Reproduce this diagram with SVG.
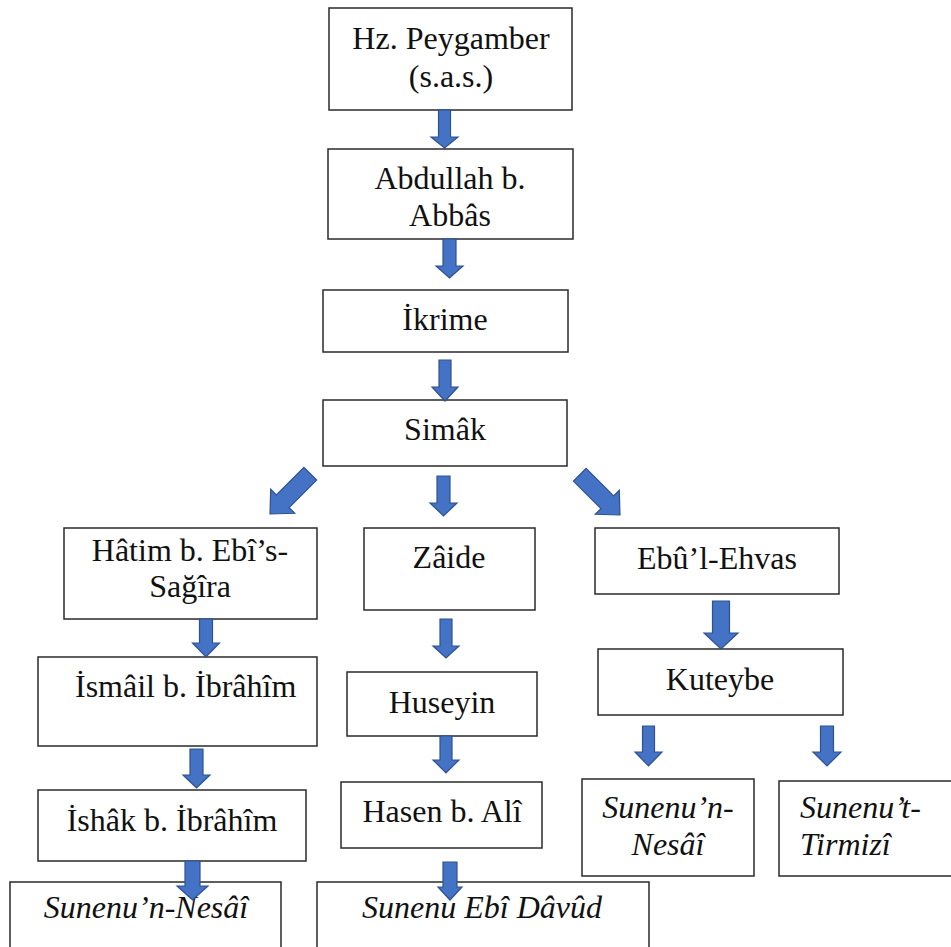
<svg xmlns="http://www.w3.org/2000/svg" width="951" height="947" viewBox="0 0 951 947">
<style>
.box{fill:#ffffff;stroke:#2a2a2a;stroke-width:1.5}
.t{font-family:'Liberation Serif','Tinos','DejaVu Serif',serif;font-size:32px;fill:#111;text-anchor:middle}
.i{font-style:italic}
.s{text-anchor:start}
.arr{fill:#4472C4;stroke:#2F528F;stroke-width:1.2;stroke-linejoin:miter}
</style>
<rect width="951" height="947" fill="#ffffff"/>
<g id="n1"><rect class="box" x="329" y="8" width="243" height="102"/><text class="t" x="451" y="49">Hz. Peygamber</text><text class="t" x="451" y="87">(s.a.s.)</text></g>
<g id="n2"><rect class="box" x="328" y="149" width="245" height="90"/><text class="t" x="450" y="189">Abdullah b.</text><text class="t" x="450" y="226">Abbâs</text></g>
<g id="n3"><rect class="box" x="323" y="290" width="245" height="62"/><text class="t" x="445" y="330">İkrime</text></g>
<g id="n4"><rect class="box" x="323" y="400" width="244" height="66"/><text class="t" x="445" y="440">Simâk</text></g>
<g id="n5"><rect class="box" x="64" y="528" width="253" height="91"/><text class="t" x="190" y="561">Hâtim b. Ebî’s-</text><text class="t" x="190" y="597">Sağîra</text></g>
<g id="n6"><rect class="box" x="364" y="528" width="171" height="82"/><text class="t" x="449" y="568">Zâide</text></g>
<g id="n7"><rect class="box" x="595" y="528" width="244" height="66"/><text class="t" x="717" y="569">Ebû’l-Ehvas</text></g>
<g id="n8"><rect class="box" x="38" y="657" width="279" height="89"/><text class="t s" x="75" y="697">İsmâil b. İbrâhîm</text></g>
<g id="n9"><rect class="box" x="38" y="790" width="268" height="71"/><text class="t" x="172" y="831">İshâk b. İbrâhîm</text></g>
<g id="n10"><rect class="box" x="10" y="882" width="271" height="80"/><text class="t i" x="146" y="918">Sunenu’n-Nesâî</text></g>
<g id="n11"><rect class="box" x="347" y="672" width="190" height="64"/><text class="t" x="442" y="713">Huseyin</text></g>
<g id="n12"><rect class="box" x="341" y="782" width="201" height="66"/><text class="t" x="442" y="822">Hasen b. Alî</text></g>
<g id="n13"><rect class="box" x="317" y="882" width="332" height="80"/><text class="t i" x="482" y="918">Sunenu Ebî Dâvûd</text></g>
<g id="n14"><rect class="box" x="598" y="649" width="245" height="66"/><text class="t" x="720" y="690">Kuteybe</text></g>
<g id="n15"><rect class="box" x="582" y="779" width="172" height="97"/><text class="t i" x="668" y="818">Sunenu’n-</text><text class="t i" x="668" y="855">Nesâî</text></g>
<g id="n16"><rect class="box" x="779" y="781" width="190" height="95"/><text class="t i s" x="800" y="818">Sunenu’t-</text><text class="t i s" x="800" y="855">Tirmizî</text></g>
<g id="connectors">
<path class="arr" transform="translate(444.5,148)" d="M-6,-38 L6,-38 L6,-11 L13.5,-11 L0,0 L-13.5,-11 L-6,-11 Z"/>
<path class="arr" transform="translate(449.5,278)" d="M-6.5,-39 L6.5,-39 L6.5,-12 L13.5,-12 L0,0 L-13.5,-12 L-6.5,-12 Z"/>
<path class="arr" transform="translate(445,401)" d="M-6,-41 L6,-41 L6,-14 L13,-14 L0,0 L-13,-14 L-6,-14 Z"/>
<path class="arr" transform="translate(443.5,516)" d="M-6.5,-40 L6.5,-40 L6.5,-13 L13.5,-13 L0,0 L-13.5,-13 L-6.5,-13 Z"/>
<path class="arr" transform="translate(270,514) rotate(45)" d="M-9,-57 L9,-57 L9,-18 L17,-18 L0,0 L-17,-18 L-9,-18 Z"/>
<path class="arr" transform="translate(620,515) rotate(-45)" d="M-9,-57 L9,-57 L9,-18 L17,-18 L0,0 L-17,-18 L-9,-18 Z"/>
<path class="arr" transform="translate(206,657)" d="M-6.5,-38 L6.5,-38 L6.5,-14 L13.5,-14 L0,0 L-13.5,-14 L-6.5,-14 Z"/>
<path class="arr" transform="translate(196.5,788)" d="M-6.5,-39 L6.5,-39 L6.5,-13 L13.5,-13 L0,0 L-13.5,-13 L-6.5,-13 Z"/>
<path class="arr" transform="translate(192.5,900)" d="M-7.5,-39 L7.5,-39 L7.5,-14 L15.5,-14 L0,0 L-15.5,-14 L-7.5,-14 Z"/>
<path class="arr" transform="translate(446,658)" d="M-6,-39 L6,-39 L6,-12 L13,-12 L0,0 L-13,-12 L-6,-12 Z"/>
<path class="arr" transform="translate(446,773)" d="M-6,-37 L6,-37 L6,-13 L13,-13 L0,0 L-13,-13 L-6,-13 Z"/>
<path class="arr" transform="translate(450,900)" d="M-7,-38 L7,-38 L7,-13 L12,-13 L0,0 L-12,-13 L-7,-13 Z"/>
<path class="arr" transform="translate(721,649)" d="M-8.5,-48 L8.5,-48 L8.5,-16 L17,-16 L0,0 L-17,-16 L-8.5,-16 Z"/>
<path class="arr" transform="translate(648.5,766)" d="M-6,-40 L6,-40 L6,-14 L13.5,-14 L0,0 L-13.5,-14 L-6,-14 Z"/>
<path class="arr" transform="translate(827,766)" d="M-6.5,-40 L6.5,-40 L6.5,-14 L14,-14 L0,0 L-14,-14 L-6.5,-14 Z"/>
</g>
</svg>
